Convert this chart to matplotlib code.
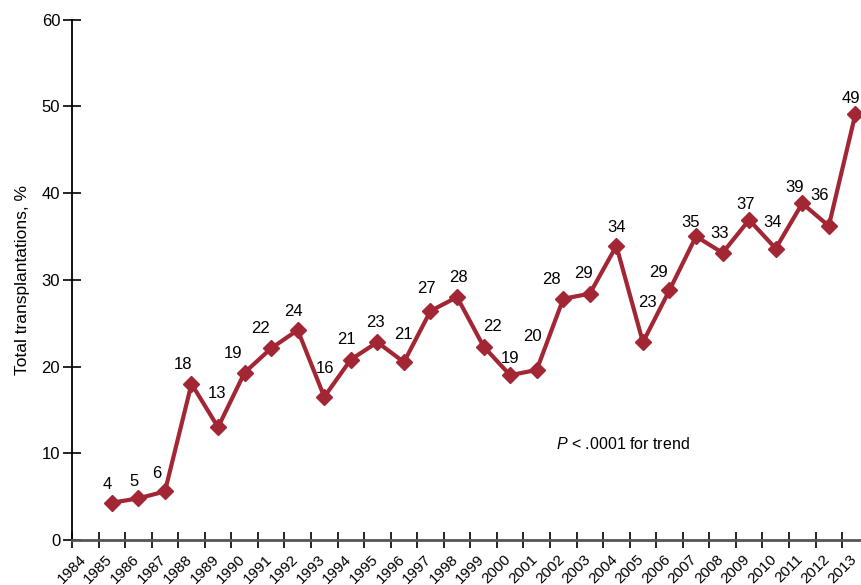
import numpy as np
import matplotlib
matplotlib.use('Agg')
import matplotlib.pyplot as plt

plt.rcParams['font.family'] = ['Liberation Sans', 'DejaVu Sans']
plt.rcParams['mathtext.fontset'] = 'custom'
plt.rcParams['mathtext.it'] = 'Liberation Sans:italic'
plt.rcParams['mathtext.rm'] = 'Liberation Sans'

## Data ##

years = np.arange(1985, 2014)
pct = [4.3, 4.8, 5.6, 18.0, 13.0, 19.3, 22.1, 24.2, 16.5, 20.8,
       22.8, 20.5, 26.4, 28.0, 22.3, 19.0, 19.6, 27.8, 28.4, 33.9,
       22.8, 28.8, 35.0, 33.1, 36.9, 33.6, 38.8, 36.2, 49.1]
labels = ['4', '5', '6', '18', '13', '19', '22', '24', '16', '21',
          '23', '21', '27', '28', '22', '19', '20', '28', '29', '34',
          '23', '29', '35', '33', '37', '34', '39', '36', '49']
tick_years = np.arange(1984, 2014)

# label offsets in pixels (dx, dy) relative to each point
label_off = [(-5, 18), (-4, 17), (-8, 18), (-8, 19), (-1, 34), (-12, 19),
             (-11, 20), (-4, 19), (1, 28), (-4, 20), (-2, 20), (0, 28),
             (-4, 22), (1, 20), (9, 20), (0, 17), (-4, 33), (-12, 19),
             (-6, 20), (0, 18), (5, 40), (-11, 18), (-5, 14), (-3, 19),
             (-4, 15), (-3, 26), (-8, 16), (-9, 30), (-4, 16)]

color = '#A22633'

fig = plt.figure(figsize=(8.62, 5.85), dpi=100)
ax = fig.add_axes([72/862, 45/585, 790/862, 520.5/585])

xs = years + 0.5
ax.plot(xs, pct, color=color, lw=3, marker='D', ms=8.5, clip_on=False, zorder=3)

for x, y, lab, (dx, dy) in zip(xs, pct, labels, label_off):
    ax.annotate(lab, (x, y), xytext=(dx, dy), textcoords='offset pixels',
                ha='center', va='center', fontsize=12)

ax.text(2002.23, 11.07, r'$P$ < .0001 for trend', ha='left', va='center', fontsize=11.5)

ax.set_xlim(1984, 2013.75)
ax.set_ylim(0, 60)
ax.set_yticks([0, 10, 20, 30, 40, 50, 60])
ax.set_xticks(tick_years)
ax.set_xticklabels([str(y) for y in tick_years], rotation=45, ha='center',
                   fontsize=11)
ax.set_ylabel('Total transplantations, %', fontsize=12.5, labelpad=8)

for s in ['top', 'right']:
    ax.spines[s].set_visible(False)
ax.spines['left'].set_linewidth(1.3)
ax.spines['bottom'].set_linewidth(2)
ax.spines['bottom'].set_color('#555555')
ax.tick_params(axis='y', direction='inout', length=13, width=1.2, labelsize=12, pad=2)
ax.tick_params(axis='x', direction='inout', length=12, width=1.2, pad=2.5)

fig.savefig('out.png', dpi=100)
